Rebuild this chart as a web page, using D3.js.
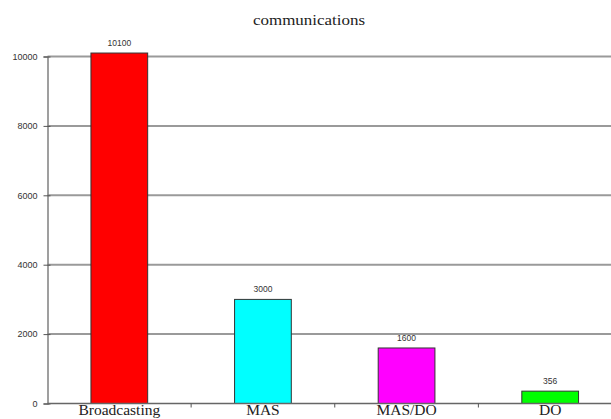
<!DOCTYPE html>
<html>
<head>
<meta charset="utf-8">
<script src="https://cdn.jsdelivr.net/npm/d3@7"></script>
<style>
  html, body { margin: 0; padding: 0; background: #fff; }
  svg { display: block; }
</style>
</head>
<body>
<svg id="chart" width="611" height="419"></svg>
<script>
// Chart data
const title = "communications";
const categories = ["Broadcasting", "MAS", "MAS/DO", "DO"];
const values = [10100, 3000, 1600, 356];
const barColors = ["#ff0000", "#00ffff", "#ff00ff", "#00ff00"];
const yTicks = [0, 2000, 4000, 6000, 8000, 10000];

const W = 611, H = 419;
const margin = { left: 47.5, top: 56.5, bottom: 403.5 };
const plotRight = 622;   // last category slot runs past the page edge

const svg = d3.select("#chart");

const x = d3.scaleBand()
  .domain(categories)
  .range([margin.left, plotRight])
  .paddingInner(0.605)
  .paddingOuter(0.3025);

const y = d3.scaleLinear()
  .domain([0, 10000])
  .range([margin.bottom, margin.top]);

// Title
svg.append("text")
  .attr("x", 309)
  .attr("y", 25)
  .attr("text-anchor", "middle")
  .attr("font-family", "'Liberation Serif', 'Times New Roman', serif")
  .attr("font-size", 14)
  .attr("textLength", 112)
  .attr("lengthAdjust", "spacingAndGlyphs")
  .attr("fill", "#222")
  .text(title);

// Horizontal gridlines
svg.append("g")
  .selectAll("line")
  .data(yTicks.filter(d => d > 0))
  .join("line")
  .attr("x1", margin.left)
  .attr("x2", W)
  .attr("y1", d => y(d))
  .attr("y2", d => y(d))
  .attr("stroke", "#9a9a9a")
  .attr("stroke-width", 2);

// Y axis
const yAxis = d3.axisLeft(y)
  .tickValues(yTicks)
  .tickSize(4)
  .tickPadding(6)
  .tickFormat(d3.format("d"));

const gy = svg.append("g")
  .attr("transform", `translate(${margin.left},0)`)
  .call(yAxis);
gy.select(".domain").attr("stroke", "#808080").attr("stroke-width", 1.5);
gy.selectAll(".tick line")
  .attr("x1", -4).attr("x2", 3)
  .attr("stroke", "#555");
gy.selectAll(".tick text")
  .attr("font-family", "'Liberation Sans', Arial, sans-serif")
  .attr("font-size", 9)
  .attr("fill", "#333");

// Bars
svg.append("g")
  .selectAll("rect")
  .data(values)
  .join("rect")
  .attr("x", (d, i) => x(categories[i]))
  .attr("y", d => y(d))
  .attr("width", x.bandwidth())
  .attr("height", d => y(0) - y(d))
  .attr("fill", (d, i) => barColors[i])
  .attr("stroke", "#333")
  .attr("stroke-width", 1);

// Value labels
svg.append("g")
  .selectAll("text")
  .data(values)
  .join("text")
  .attr("x", (d, i) => x(categories[i]) + x.bandwidth() / 2)
  .attr("y", d => y(d) - 7)
  .attr("text-anchor", "middle")
  .attr("font-family", "'Liberation Sans', Arial, sans-serif")
  .attr("font-size", 8.5)
  .attr("fill", "#333")
  .text(d => d);

// X baseline and category separators
svg.append("line")
  .attr("x1", margin.left)
  .attr("x2", W)
  .attr("y1", y(0))
  .attr("y2", y(0))
  .attr("stroke", "#666")
  .attr("stroke-width", 1.5);

const step = x.step();
svg.append("g")
  .selectAll("line")
  .data(categories.slice(1))
  .join("line")
  .attr("x1", (d, i) => margin.left + (i + 1) * step)
  .attr("x2", (d, i) => margin.left + (i + 1) * step)
  .attr("y1", y(0))
  .attr("y2", y(0) + 4)
  .attr("stroke", "#555");

// Category labels
svg.append("g")
  .selectAll("text")
  .data(categories)
  .join("text")
  .attr("x", d => x(d) + x.bandwidth() / 2)
  .attr("y", 414.5)
  .attr("text-anchor", "middle")
  .attr("font-family", "'Liberation Serif', 'Times New Roman', serif")
  .attr("font-size", 15.5)
  .attr("fill", "#222")
  .text(d => d);
</script>
</body>
</html>
